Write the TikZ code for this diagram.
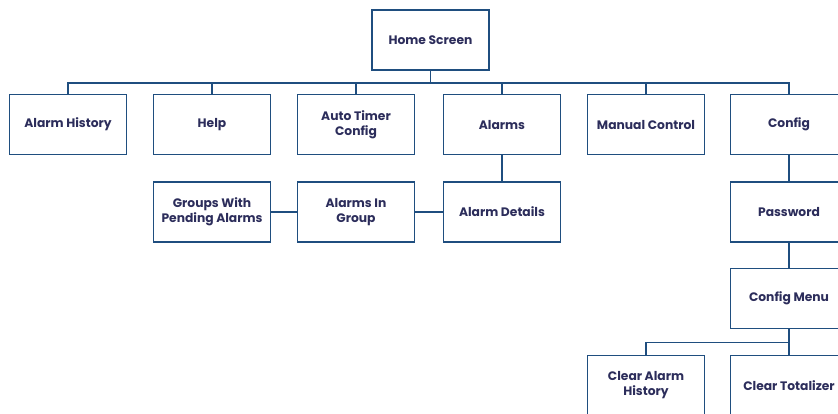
\documentclass[tikz,border=0pt]{standalone}
\usepackage{fontspec}
\setmainfont{Poppins}
\definecolor{edgeblue}{HTML}{1F4E7F}
\definecolor{txtnavy}{HTML}{2C2D5B}
\begin{document}
\begin{tikzpicture}[x=1pt,y=-1pt,
  box/.style={draw=edgeblue, line width=1.8pt, fill=white, minimum width=117pt, minimum height=60pt,
    inner sep=0pt, align=center, text=txtnavy, font=\fontsize{12.3}{15}\selectfont\bfseries},
  link/.style={draw=edgeblue, line width=1.8pt}]
\useasboundingbox (0,0) rectangle (838,413);
\clip (0,0) rectangle (838,413);
\node[box] (home) at (430.5,40) {Home Screen};
\node[box] (ah) at (68,124.5) {Alarm History};
\node[box] (help) at (212,124.5) {Help};
\node[box] (atc) at (356,124.5) {Auto Timer\\Config};
\node[box] (alarms) at (502,124.5) {Alarms};
\node[box] (man) at (646,124.5) {Manual Control};
\node[box] (cfg) at (789,124.5) {Config};
\node[box] (gwp) at (212,212) {Groups With\\Pending Alarms};
\node[box] (aig) at (356,212) {Alarms In\\Group};
\node[box] (ad) at (502,212) {Alarm Details};
\node[box] (pw) at (789,212) {Password};
\node[box] (cm) at (789,298.5) {Config Menu};
\node[box] (cah) at (646,385.5) {Clear Alarm\\History};
\node[box] (ct) at (789,385.5) {Clear Totalizer};
\foreach \t in {ah,help,atc,alarms,man,cfg}
  \draw[link] (home.south) -- ++(0,12) -| (\t.north);
\draw[link] (alarms.south) -- (ad.north);
\draw[link] (ad.west) -- (aig.east);
\draw[link] (aig.west) -- (gwp.east);
\draw[link] (cfg.south) -- (pw.north);
\draw[link] (pw.south) -- (cm.north);
\draw[link] (cm.south) -- ++(0,13) -| (cah.north);
\draw[link] (cm.south) -- (ct.north);
\end{tikzpicture}
\end{document}
